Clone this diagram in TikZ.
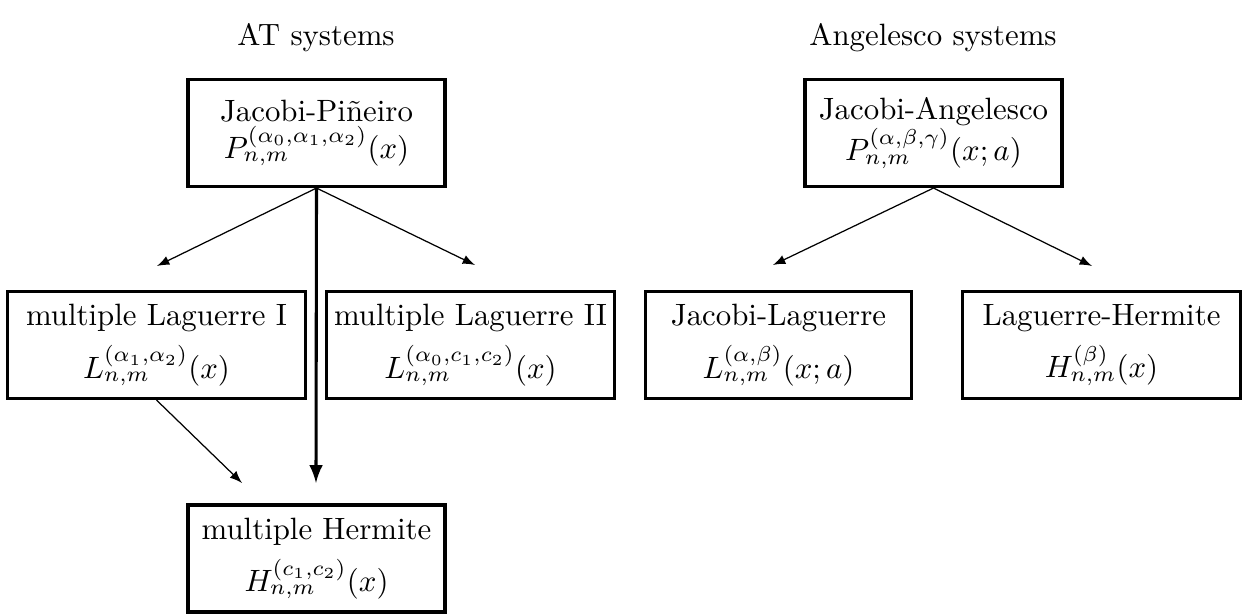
\documentclass[tikz,border=0pt]{standalone}
\usetikzlibrary{arrows}
\begin{document}
\begin{tikzpicture}[x=0.0114cm,y=-0.0114cm,
  box/.style={draw,line width=1pt,align=center,inner sep=0pt,minimum height=1.22cm}]
\useasboundingbox (0,0) rectangle (1242,614);
\node (AT) at (316,38) {AT systems};
\node (ANG) at (933,38) {Angelesco systems};

\node[box,minimum width=2.93cm] (JP) at (316.5,133) {Jacobi-Pi\~neiro\\ $P_{n,m}^{(\alpha_0,\alpha_1,\alpha_2)}(x)$};
\node[box,minimum width=3.39cm] (MLI) at (156.5,345) {multiple Laguerre I\\[3.5pt] $L_{n,m}^{(\alpha_1,\alpha_2)}(x)$};
\node[box,minimum width=3.29cm] (MLII) at (470.5,345) {multiple Laguerre II\\[3.5pt] $L_{n,m}^{(\alpha_0,c_1,c_2)}(x)$};
\node[box,minimum width=2.93cm] (MH) at (316.5,558.5) {multiple Hermite\\[3.5pt] $H_{n,m}^{(c_1,c_2)}(x)$};

\node[box,minimum width=2.93cm] (JA) at (933.5,133) {Jacobi-Angelesco\\ $P_{n,m}^{(\alpha,\beta,\gamma)}(x;a)$};
\node[box,minimum width=3.04cm] (JL) at (778.5,345) {Jacobi-Laguerre\\[3.5pt] $L_{n,m}^{(\alpha,\beta)}(x;a)$};
\node[box,minimum width=3.16cm] (LH) at (1101.5,345) {Laguerre-Hermite\\[3.5pt] $H_{n,m}^{(\beta)}(x)$};

\coordinate (tMLI) at (157,266);
\coordinate (tMLII) at (475,265);
\coordinate (tMH) at (316,483);
\coordinate (tMH2) at (242,483);
\coordinate (tJL) at (773,265);
\coordinate (tLH) at (1092,266);

\draw[-latex] (JP.south) -- (tMLI);
\draw[-latex] (JP.south) -- (tMLII);
\draw[-latex, line width=1pt] (JP.south) -- (tMH);
\draw[-latex] (MLI.south) -- (tMH2);
\draw[-latex] (JA.south) -- (tJL);
\draw[-latex] (JA.south) -- (tLH);
\end{tikzpicture}
\end{document}
